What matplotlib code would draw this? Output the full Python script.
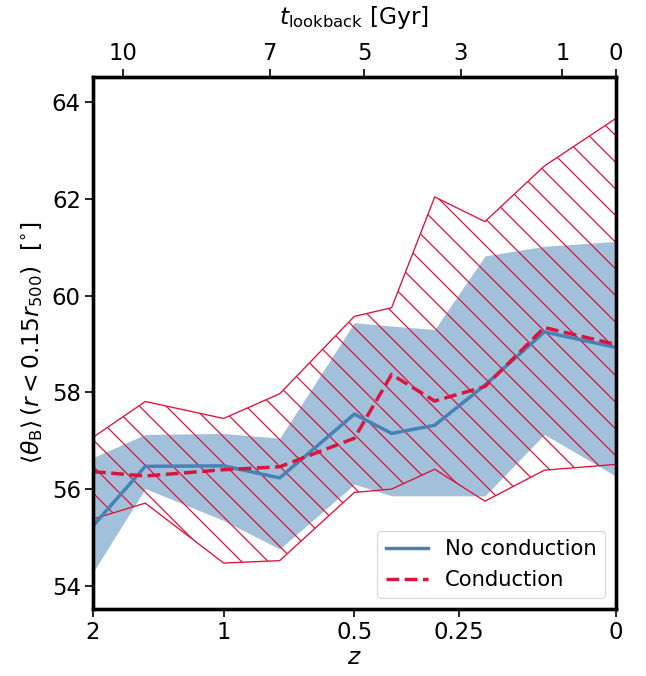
import numpy as np
import matplotlib
matplotlib.use("Agg")
import matplotlib.pyplot as plt

# redshift of each snapshot
z = np.array([2, 1.5, 1, 0.75, 0.5, 0.4, 0.3, 0.2, 0.1, 0])

# median <theta_B> and 16-84 percentile band, no conduction run
theta_nocond = np.array([55.24, 56.47, 56.48, 56.23, 57.55, 57.15, 57.32, 58.15, 59.25, 58.93])
nocond_lo = np.array([54.28, 56.01, 55.35, 54.76, 56.10, 55.86, 55.86, 55.86, 57.13, 56.27])
nocond_hi = np.array([56.65, 57.13, 57.15, 57.05, 59.44, 59.37, 59.30, 60.82, 61.02, 61.12])

# same for the run with conduction
theta_cond = np.array([56.36, 56.27, 56.40, 56.46, 57.05, 58.37, 57.82, 58.12, 59.34, 58.99])
cond_lo = np.array([55.38, 55.71, 54.47, 54.52, 55.93, 56.00, 56.41, 55.75, 56.39, 56.51])
cond_hi = np.array([57.07, 57.81, 57.46, 57.97, 59.57, 59.75, 62.04, 61.53, 62.68, 63.66])

# axis ticks
z_ticks = [2, 1, 0.5, 0.25, 0]
z_ticklabels = ["2", "1", "0.5", "0.25", "0"]
tlb_ticklabels = ["10", "7", "5", "3", "1", "0"]
tlb_tick_a = [0.3711, 0.5589, 0.6790, 0.8027, 0.9319, 1.0]

a = 1.0 / (1.0 + z)

DPI = 80
plt.rcParams["hatch.linewidth"] = 1.1

fig = plt.figure(figsize=(646 / DPI, 676 / DPI), dpi=DPI)
ax = fig.add_axes([0.1440, 0.0991, 0.8090, 0.7870])

ax.fill_between(a, nocond_lo, nocond_hi, color="steelblue", alpha=0.5, lw=0)
ax.fill_between(a, cond_lo, cond_hi, facecolor="none", edgecolor="crimson",
                hatch="\\", lw=1.2)
ax.plot(a, theta_nocond, color="steelblue", lw=3.1, label="No conduction")
ax.plot(a, theta_cond, color="crimson", lw=3.1, ls="--", label="Conduction")

ax.set_xlim(1 / 3, 1)
ax.set_ylim(53.52, 64.52)
ax.set_xticks([1 / (1 + zz) for zz in z_ticks])
ax.set_xticklabels(z_ticklabels)
ax.set_yticks(np.arange(54, 65, 2))
ax.tick_params(labelsize=20.5, length=7.5, width=1.5)
ax.set_xlabel("$z$", fontsize=21, labelpad=2)
ax.set_ylabel(r"$\langle\theta_{\rm B}\rangle\,(r<0.15r_{500})$  [$^{\circ}$]",
              fontsize=21, labelpad=6)

top = ax.twiny()
top.set_xlim(ax.get_xlim())
top.set_xticks(tlb_tick_a)
top.set_xticklabels(tlb_ticklabels)
top.tick_params(labelsize=20.5, length=7.5, width=1.5)
top.set_xlabel(r"$t_{\rm lookback}$ [Gyr]", fontsize=21, labelpad=16)

for axis in (ax, top):
    for sp in axis.spines.values():
        sp.set_linewidth(3.0)

ax.legend(loc="lower right", fontsize=19, handlelength=2.0)

fig.savefig("out.png", dpi=DPI)
